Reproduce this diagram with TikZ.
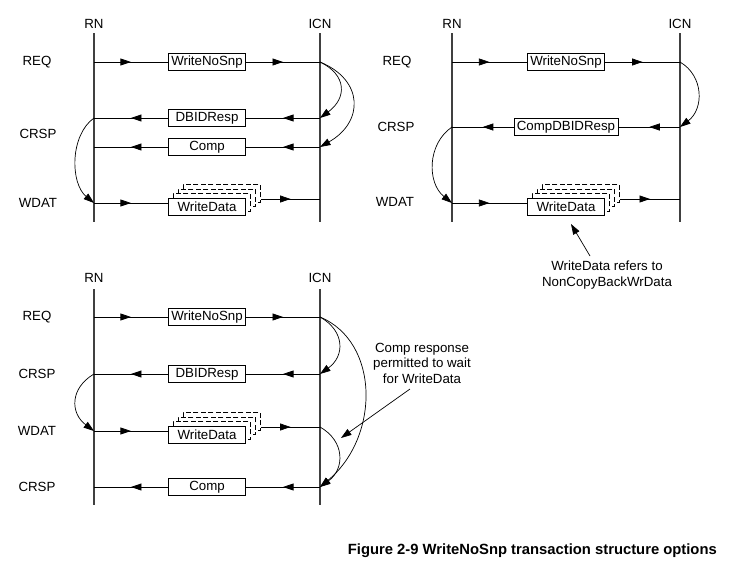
\documentclass[tikz,border=0pt]{standalone}
\usepackage{fontspec}
\setmainfont{Liberation Sans}
\usetikzlibrary{arrows.meta,decorations.markings,calc}
\newcommand\wdstack[4]{%
  \node[msg] (#1c) at (#2+15,#3+4-13.5) {};
  \node[msg] (#1b) at (#2+10,#3+4-9) {};
  \node[msg] (#1a) at (#2+5,#3+4-4.5) {};
  \node[box] (#1) at (#2,#3+4) {#4};
}
\begin{document}
\begin{tikzpicture}[x=1pt,y=-1pt,
  font=\fontsize{13.3}{15.5}\selectfont,
  >={Triangle[length=10.5pt,width=7pt]},
  box/.style={draw, fill=white, line width=0.7pt, inner xsep=3pt, inner ysep=0pt, minimum width=77.5pt, minimum height=17.5pt},
  msg/.style={box, dash pattern=on 5pt off 2.5pt},
  life/.style={draw=black!75, line width=1.2pt},
  wire/.style={draw, line width=0.7pt},
  midarrow/.style={wire, postaction={decorate}, decoration={markings, mark=at position 0.5 with {\arrow{>}}}},
  curvy/.style={wire, ->},
  lbl/.style={inner sep=0pt}
]
\useasboundingbox (0,0) rectangle (729,568);

% ================= Diagram 1 =================
\node[lbl] (rn1) at (94,24) {RN};
\node[lbl] (icn1) at (320,24) {ICN};
\coordinate (rn1t) at (94,33); \coordinate (rn1b) at (94,222);
\coordinate (icn1t) at (320,33); \coordinate (icn1b) at (320,222);
\draw[life] (rn1t) -- (rn1b);
\draw[life] (icn1t) -- (icn1b);
\node[lbl] (req1) at (37,62) {REQ};
\node[lbl] (crsp1) at (38,134) {CRSP};
\node[lbl] (wdat1) at (38,203) {WDAT};

\coordinate (a11) at (94,62);  \coordinate (b11) at (320,62);
\coordinate (a12) at (94,118); \coordinate (b12) at (320,118);
\coordinate (a13) at (94,147); \coordinate (b13) at (320,147);
\coordinate (a14) at (94,203); \coordinate (b14) at (320,199);

\node[box] (m11) at (207,62) {WriteNoSnp};
\draw[midarrow] (a11) -- (m11.west);
\draw[midarrow] (m11.east) -- (b11);

\node[box] (m12) at (207,118) {DBIDResp};
\draw[midarrow] (b12) -- (m12.east);
\draw[midarrow] (m12.west) -- (a12);

\node[box] (m13) at (207,147) {Comp};
\draw[midarrow] (b13) -- (m13.east);
\draw[midarrow] (m13.west) -- (a13);

\wdstack{wd1}{207}{203}{WriteData}
\draw[midarrow] (a14) -- (a14 -| wd1.west);
\draw[midarrow] (b14 -| wd1c.east) -- (b14);

\draw[curvy] (b11) .. controls +(27,13) and +(27,-20) .. (b12);
\draw[curvy] (b11) .. controls +(44,18) and +(44,-25) .. (b13);
\draw[curvy] (a12) .. controls +(-24,17) and +(-24,-20) .. (a14);

% ================= Diagram 2 =================
\node[lbl] (rn2) at (452,24) {RN};
\node[lbl] (icn2) at (680,24) {ICN};
\coordinate (rn2t) at (452,33); \coordinate (rn2b) at (452,222);
\coordinate (icn2t) at (680,33); \coordinate (icn2b) at (680,222);
\draw[life] (rn2t) -- (rn2b);
\draw[life] (icn2t) -- (icn2b);
\node[lbl] (req2) at (397,62) {REQ};
\node[lbl] (crsp2) at (396,127) {CRSP};
\node[lbl] (wdat2) at (395,202) {WDAT};

\coordinate (a21) at (452,62);  \coordinate (b21) at (680,62);
\coordinate (a22) at (452,127); \coordinate (b22) at (680,127);
\coordinate (a23) at (452,203); \coordinate (b23) at (680,199);

\node[box] (m21) at (566,62) {WriteNoSnp};
\draw[midarrow] (a21) -- (m21.west);
\draw[midarrow] (m21.east) -- (b21);

\node[box] (m22) at (566,127) {CompDBIDResp};
\draw[midarrow] (b22) -- (m22.east);
\draw[midarrow] (m22.west) -- (a22);

\wdstack{wd2}{566}{203}{WriteData}
\draw[midarrow] (a23) -- (a23 -| wd2.west);
\draw[midarrow] (b23 -| wd2c.east) -- (b23);

\draw[curvy] (b21) .. controls +(24,14) and +(24,-18) .. (b22);
\draw[curvy] (a22) .. controls +(-25,17) and +(-25,-20) .. (a23);

\node[lbl, align=center] (note2) at (607,275) {WriteData refers to\\NonCopyBackWrData};
\coordinate (tip2) at (571,224);
\draw[wire, ->] (590,256) -- (tip2);

% ================= Diagram 3 =================
\node[lbl] (rn3) at (94,278) {RN};
\node[lbl] (icn3) at (320,278) {ICN};
\coordinate (rn3t) at (94,289); \coordinate (rn3b) at (94,505);
\coordinate (icn3t) at (320,289); \coordinate (icn3b) at (320,505);
\draw[life] (rn3t) -- (rn3b);
\draw[life] (icn3t) -- (icn3b);
\node[lbl] (req3) at (37,317) {REQ};
\node[lbl] (crsp3) at (37,374) {CRSP};
\node[lbl] (wdat3) at (37,431) {WDAT};
\node[lbl] (crsp3b) at (37,487) {CRSP};

\coordinate (a31) at (94,317); \coordinate (b31) at (320,317);
\coordinate (a32) at (94,374); \coordinate (b32) at (320,374);
\coordinate (a33) at (94,431); \coordinate (b33) at (320,427);
\coordinate (a34) at (94,487); \coordinate (b34) at (320,487);

\node[box] (m31) at (207,317) {WriteNoSnp};
\draw[midarrow] (a31) -- (m31.west);
\draw[midarrow] (m31.east) -- (b31);

\node[box] (m32) at (207,374) {DBIDResp};
\draw[midarrow] (b32) -- (m32.east);
\draw[midarrow] (m32.west) -- (a32);

\wdstack{wd3}{207}{431}{WriteData}
\draw[midarrow] (a33) -- (a33 -| wd3.west);
\draw[midarrow] (b33 -| wd3c.east) -- (b33);

\node[box] (m34) at (207,487) {Comp};
\draw[midarrow] (b34) -- (m34.east);
\draw[midarrow] (m34.west) -- (a34);

\draw[curvy] (b31) .. controls +(25,14) and +(25,-18) .. (b32);
\draw[curvy] (b31) .. controls +(60,25) and +(60,-50) .. (b34);
\draw[curvy] (b33) .. controls +(25,14) and +(25,-18) .. (b34);
\draw[curvy] (a32) .. controls +(-24,14) and +(-24,-18) .. (a33);

\node[lbl, align=center] (note3) at (422,363) {Comp response\\permitted to wait\\for WriteData};
\coordinate (tip3) at (341,438);
\draw[wire, ->] (410,389) -- (tip3);

% ================= Caption =================
\node[lbl, anchor=east, font=\fontsize{14.8}{17}\selectfont\bfseries] (cap) at (717,551) {Figure 2-9 WriteNoSnp transaction structure options};
\end{tikzpicture}
\end{document}
